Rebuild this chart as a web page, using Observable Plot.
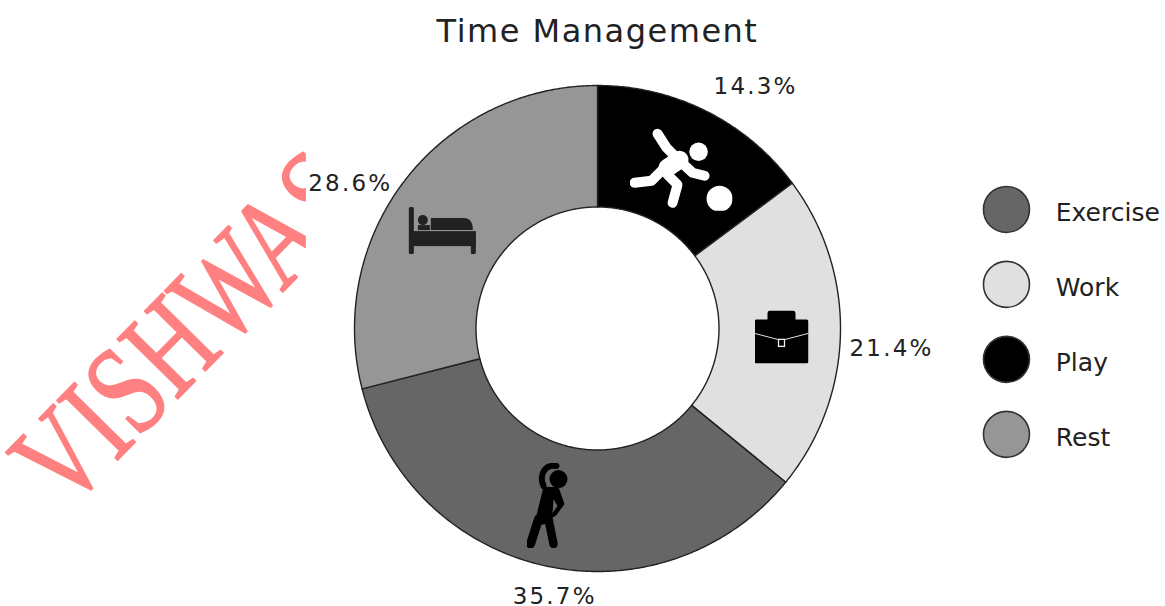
<!DOCTYPE html>
<html>
<head>
<meta charset="utf-8">
<style>
  html, body { margin: 0; padding: 0; background: #fff; }
  .hand text { letter-spacing: 2.2px; }
  .title text { letter-spacing: 1.5px; }
</style>
<script src="https://cdn.jsdelivr.net/npm/d3@7"></script>
<script src="https://cdn.jsdelivr.net/npm/@observablehq/plot@0.6"></script>
</head>
<body>
<script>
// Data, clockwise from 12 o'clock
const categories = ["Play", "Work", "Exercise", "Rest"];
const shares = [14.8, 21.1, 35.1, 29.0]; // slice sizes as drawn in the picture
const shareLabels = ["14.3%", "21.4%", "35.7%", "28.6%"]; // percentages printed on the chart
const legendOrder = ["Exercise", "Work", "Play", "Rest"];
const chartTitle = "Time Management";
const watermark = "VISHWAS";

// Styles and layout
const colors = {Play: "#000000", Work: "#e0e0e0", Exercise: "#666666", Rest: "#969696"};
const holeRatio = 0.5;
const labelRadius = [1.19, 1.213, 1.117, 1.179];
const labelShift = [6.5, 2.65, -3.35, -7.45];
const iconRadius = [0.74, 0.758, 0.757, 0.755];
const iconShift = [1.05, 1.35, 3.35, -5.55];
const iconSize = [[103, 83], [54, 53], [42, 85], [69, 47]];

const svgUri = (w, h, body) =>
  "data:image/svg+xml," + encodeURIComponent(
    `<svg xmlns="http://www.w3.org/2000/svg" viewBox="0 0 ${w} ${h}" width="${w}" height="${h}">${body}</svg>`);

const icons = [
  svgUri(103, 83, `<g fill="none" stroke="#fff" stroke-width="10" stroke-linecap="round" stroke-linejoin="round">
    <path d="M28 6L37 20L50 33"/><path d="M5 55L22 53L35 40"/><path d="M38 47L48 57L43 75"/><path d="M50 33L63 45L75 48"/>
    <path d="M38 40L50 32" stroke-width="18"/></g>
    <circle cx="69" cy="24" r="9.3" fill="#fff"/><circle cx="90" cy="71" r="13" fill="#fff"/>`),
  svgUri(54, 53, `<rect x="13" y="0" width="28" height="12" rx="3" fill="#000"/>
    <rect x="0" y="9" width="54" height="44" rx="2" fill="#000"/>
    <path d="M0 23L27 30L54 23" fill="none" stroke="#ddd" stroke-width="1"/>
    <rect x="24" y="29" width="6" height="7" fill="#000" stroke="#eee" stroke-width="1.3"/>`),
  svgUri(42, 85, `<g fill="none" stroke="#000" stroke-linecap="round" stroke-linejoin="round">
    <path d="M30 3C19 1 12 11 17 23" stroke-width="6"/>
    <path d="M12 56L4 81" stroke-width="9"/><path d="M22 56L27 81" stroke-width="8.5"/></g>
    <path d="M17 24L32 24L38 41L30 52L24 56L22 60L7 64Z" fill="#000"/>
    <path d="M27 36L31 43L26 50Z" fill="#666"/>
    <circle cx="32" cy="16" r="9" fill="#000"/>`),
  svgUri(69, 47, `<g fill="#222"><rect x="1" y="0" width="5" height="47" rx="1.5"/><rect x="63" y="26" width="5" height="21" rx="1.5"/>
    <rect x="2" y="24" width="66" height="15"/><path d="M23 11H56Q65 11 65 23H23Z"/>
    <circle cx="15" cy="13" r="5"/><rect x="10" y="18" width="12" height="5"/></g>`)
];

// Slices as polygons in unit-radius coordinates
const polar = (deg, r) => [r * Math.sin(deg * Math.PI / 180), r * Math.cos(deg * Math.PI / 180)];
const total = d3.sum(shares);
let acc = 0;
const slices = categories.map((name, i) => {
  const a0 = acc / total * 360;
  acc += shares[i];
  const a1 = acc / total * 360;
  const n = Math.ceil((a1 - a0) * 2);
  const steps = d3.range(n + 1).map(k => a0 + (a1 - a0) * k / n);
  const ring = [...steps.map(a => polar(a, 1)), ...steps.slice().reverse().map(a => polar(a, holeRatio))];
  ring.push(ring[0]);
  return {
    name, mid: (a0 + a1) / 2, label: shareLabels[i], icon: icons[i],
    iw: iconSize[i][0], ih: iconSize[i][1],
    lp: polar((a0 + a1) / 2 + labelShift[i], labelRadius[i]),
    ip: polar((a0 + a1) / 2 + iconShift[i], iconRadius[i]),
    geometry: {type: "Polygon", coordinates: [ring]}
  };
});

const legend = legendOrder.map((name, i) => ({name, x: 1.683, y: 0.49 - i * 0.3085}));
const maskShape = {type: "Polygon", coordinates: [[[-1.2, 0.2], [-1.2, 1.2], [-0.5, 1.2], [-0.5, -0.2], [-1.2, -0.2], [-1.2, 0.2]]]};

const projection = d3.geoIdentity().reflectY(true).scale(243).translate([597, 328]);
const handFont = "'DejaVu Sans', sans-serif";

// Watermark letters are narrower than the font: condense them along the baseline
const condensed = (index, scales, values, dimensions, context, next) => {
  const g = next(index, scales, values, dimensions, context);
  d3.select(g).selectAll("text").each(function () {
    this.setAttribute("y", 0);
    this.setAttribute("transform", this.getAttribute("transform") + " scale(0.75,1)");
  });
  return g;
};

const chart = Plot.plot({
  width: 1165,
  height: 606,
  margin: 0,
  projection,
  style: {background: "#fff", overflow: "hidden"},
  marks: [
    Plot.text([watermark], {
      x: () => -2.189, y: () => -0.759, text: d => d,
      rotate: -45.5, textAnchor: "start", lineAnchor: "bottom",
      fontFamily: "'Liberation Serif', serif", fontSize: 130, fill: "#ff8080",
      stroke: "#ff8080", strokeWidth: 1.6,
      render: condensed
    }),
    Plot.geo([maskShape], {fill: "#fff", stroke: "none"}),
    Plot.geo(slices, {geometry: d => d.geometry, fill: d => colors[d.name], stroke: "#222", strokeWidth: 1.4}),
    Plot.image(slices, {
      x: d => d.ip[0], y: d => d.ip[1], src: d => d.icon, width: d => d.iw, height: d => d.ih
    }),
    Plot.text(slices, {
      x: d => d.lp[0], y: d => d.lp[1], text: d => d.label,
      fontFamily: handFont, fontSize: 23, fill: "#222", className: "hand"
    }),
    Plot.dot(legend, {
      x: "x", y: "y", r: 23, fill: d => colors[d.name], stroke: "#333", strokeWidth: 1.6
    }),
    Plot.text(legend, {
      x: d => d.x + 0.203, y: "y", text: "name", textAnchor: "start",
      fontFamily: handFont, fontSize: 25, fill: "#222", dy: 4
    }),
    Plot.text([chartTitle], {
      x: () => 0, y: () => 1.22, text: d => d,
      fontFamily: handFont, fontSize: 32, fill: "#222", className: "title"
    })
  ]
});
document.body.appendChild(chart);
</script>
</body>
</html>
